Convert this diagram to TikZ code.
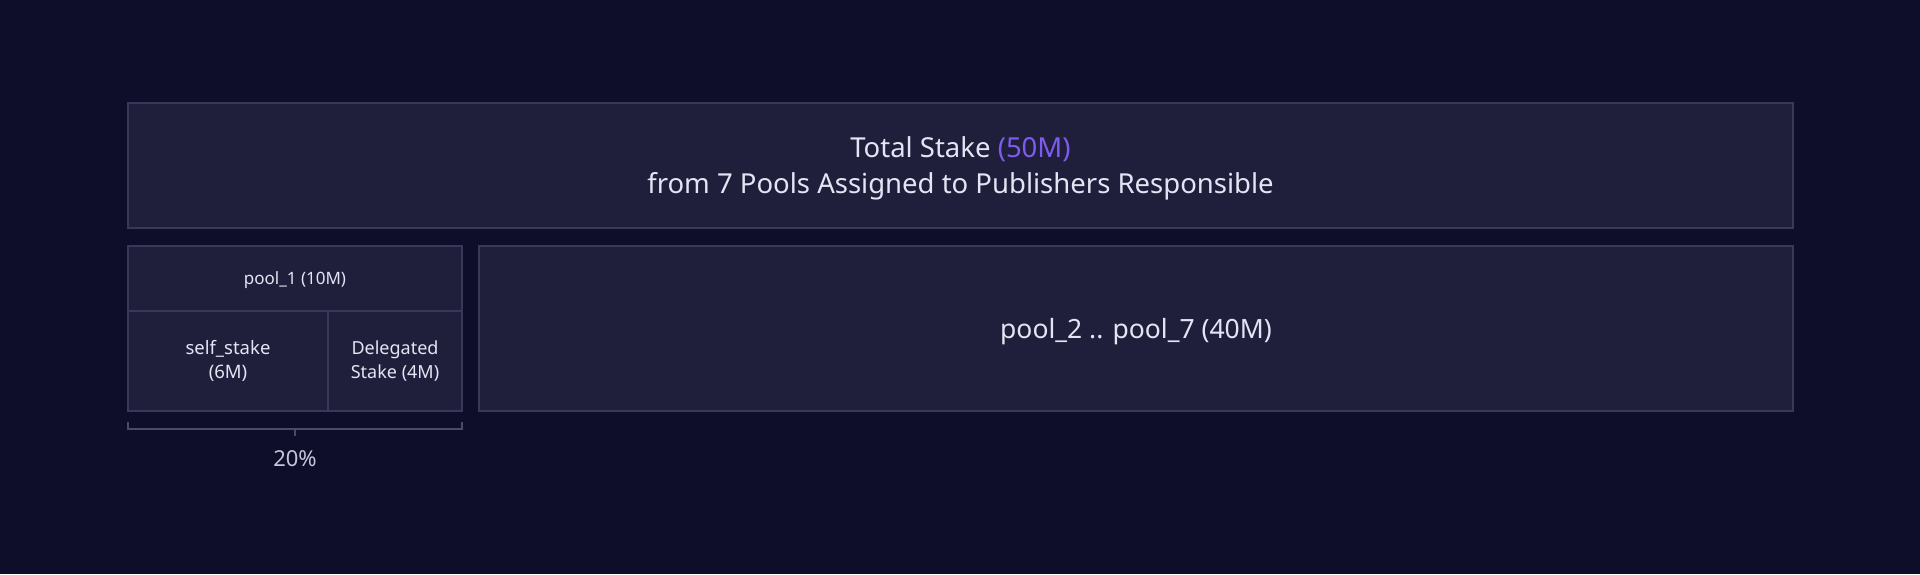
\documentclass[tikz,border=0pt]{standalone}
\usepackage{fontspec}
\setmainfont{Noto Sans}
\usetikzlibrary{positioning}
\definecolor{bgdark}{HTML}{0E0E2B}
\definecolor{boxfill}{HTML}{1F1F3C}
\definecolor{boxline}{HTML}{38385A}
\definecolor{txtlight}{HTML}{E4E4F4}
\definecolor{txtgrey}{HTML}{C4C4D8}
\definecolor{accent}{HTML}{7E5BEF}
\definecolor{bracecol}{HTML}{4A4A68}
\tikzset{
  stakebox/.style={draw=boxline, fill=boxfill, line width=1.2pt, inner sep=0pt, outer sep=0pt,
    text=txtlight, align=center, font=\fontsize{18}{24}\selectfont},
  bracket/.style={draw=bracecol, line width=1.2pt}
}
\begin{document}
\begin{tikzpicture}[x=1pt,y=-1pt]
\fill[bgdark] (0,0) rectangle (1920,574);
\useasboundingbox (0,0) rectangle (1920,574);
%\node at (960,40) {top};
\node[stakebox, minimum width=1665pt, minimum height=125pt, text depth=0pt,
  font=\fontsize{27.5}{36}\selectfont] (total) at (960.5,165.5)
  {Total Stake \textcolor{accent}{(50M)}\\from 7 Pools Assigned to Publishers Responsible};
\node[stakebox, minimum width=334pt, minimum height=65pt, text depth=0pt,
  font=\fontsize{17}{22}\selectfont, anchor=north west] (poolone) at (128,246) {pool\_1 (10M)};
\node[stakebox, minimum width=200pt, minimum height=100pt, font=\fontsize{18.5}{24}\selectfont,
  anchor=north west] (selfstake) at (poolone.south west) {self\_stake\\(6M)};
\node[stakebox, minimum width=134pt, minimum height=100pt, anchor=north west] (delegated) at (selfstake.north east) {Delegated\\Stake (4M)};
\node[stakebox, minimum width=1314pt, minimum height=165pt, text depth=0pt, font=\fontsize{26.5}{30}\selectfont,
  right=17pt of poolone.north east, anchor=north west] (poolrest) {pool\_2 .. pool\_7 (40M)};

\coordinate (bl) at (128,422);
\coordinate (br) at (462,422);
\coordinate (btop) at (295,429);
\coordinate (bbot) at (295,436);
\draw[bracket] (bl) -- ++(0,7) -| (br);
\draw[bracket] (btop) -- (bbot);
\node[text=txtgrey, text depth=0pt, font=\fontsize{22}{24}\selectfont] (share) at (295,459) {20\%};
\end{tikzpicture}
\end{document}
